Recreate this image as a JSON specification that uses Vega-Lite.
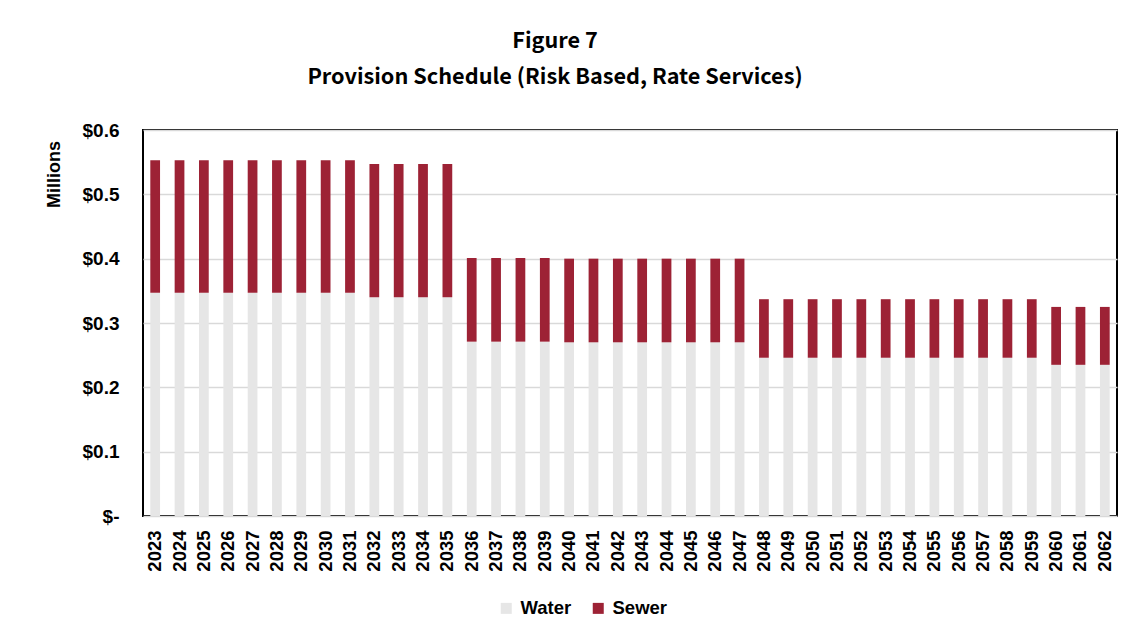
{
  "$schema": "https://vega.github.io/schema/vega-lite/v6.json",
  "width": 974,
  "height": 386,
  "autosize": {"type": "none"},
  "padding": {"left": 143, "top": 130, "right": 29, "bottom": 128},
  "background": "white",
  "title": {
    "text": ["Figure 7", "Provision Schedule (Risk Based, Rate Services)"],
    "font": "Noto Sans CJK JP",
    "fontWeight": "bold",
    "fontSize": 21.7,
    "lineHeight": 36,
    "color": "#000000",
    "anchor": "middle",
    "frame": "group",
    "dx": -75,
    "offset": 32
  },
  "data": {
    "values": [
      {"year": "2023", "type": "Water", "value": 0.347}, {"year": "2023", "type": "Sewer", "value": 0.206},
      {"year": "2024", "type": "Water", "value": 0.347}, {"year": "2024", "type": "Sewer", "value": 0.206},
      {"year": "2025", "type": "Water", "value": 0.347}, {"year": "2025", "type": "Sewer", "value": 0.206},
      {"year": "2026", "type": "Water", "value": 0.347}, {"year": "2026", "type": "Sewer", "value": 0.206},
      {"year": "2027", "type": "Water", "value": 0.347}, {"year": "2027", "type": "Sewer", "value": 0.206},
      {"year": "2028", "type": "Water", "value": 0.347}, {"year": "2028", "type": "Sewer", "value": 0.206},
      {"year": "2029", "type": "Water", "value": 0.347}, {"year": "2029", "type": "Sewer", "value": 0.206},
      {"year": "2030", "type": "Water", "value": 0.347}, {"year": "2030", "type": "Sewer", "value": 0.206},
      {"year": "2031", "type": "Water", "value": 0.347}, {"year": "2031", "type": "Sewer", "value": 0.206},
      {"year": "2032", "type": "Water", "value": 0.340}, {"year": "2032", "type": "Sewer", "value": 0.207},
      {"year": "2033", "type": "Water", "value": 0.340}, {"year": "2033", "type": "Sewer", "value": 0.207},
      {"year": "2034", "type": "Water", "value": 0.340}, {"year": "2034", "type": "Sewer", "value": 0.207},
      {"year": "2035", "type": "Water", "value": 0.340}, {"year": "2035", "type": "Sewer", "value": 0.207},
      {"year": "2036", "type": "Water", "value": 0.271}, {"year": "2036", "type": "Sewer", "value": 0.130},
      {"year": "2037", "type": "Water", "value": 0.271}, {"year": "2037", "type": "Sewer", "value": 0.130},
      {"year": "2038", "type": "Water", "value": 0.271}, {"year": "2038", "type": "Sewer", "value": 0.130},
      {"year": "2039", "type": "Water", "value": 0.271}, {"year": "2039", "type": "Sewer", "value": 0.130},
      {"year": "2040", "type": "Water", "value": 0.270}, {"year": "2040", "type": "Sewer", "value": 0.130},
      {"year": "2041", "type": "Water", "value": 0.270}, {"year": "2041", "type": "Sewer", "value": 0.130},
      {"year": "2042", "type": "Water", "value": 0.270}, {"year": "2042", "type": "Sewer", "value": 0.130},
      {"year": "2043", "type": "Water", "value": 0.270}, {"year": "2043", "type": "Sewer", "value": 0.130},
      {"year": "2044", "type": "Water", "value": 0.270}, {"year": "2044", "type": "Sewer", "value": 0.130},
      {"year": "2045", "type": "Water", "value": 0.270}, {"year": "2045", "type": "Sewer", "value": 0.130},
      {"year": "2046", "type": "Water", "value": 0.270}, {"year": "2046", "type": "Sewer", "value": 0.130},
      {"year": "2047", "type": "Water", "value": 0.270}, {"year": "2047", "type": "Sewer", "value": 0.130},
      {"year": "2048", "type": "Water", "value": 0.246}, {"year": "2048", "type": "Sewer", "value": 0.091},
      {"year": "2049", "type": "Water", "value": 0.246}, {"year": "2049", "type": "Sewer", "value": 0.091},
      {"year": "2050", "type": "Water", "value": 0.246}, {"year": "2050", "type": "Sewer", "value": 0.091},
      {"year": "2051", "type": "Water", "value": 0.246}, {"year": "2051", "type": "Sewer", "value": 0.091},
      {"year": "2052", "type": "Water", "value": 0.246}, {"year": "2052", "type": "Sewer", "value": 0.091},
      {"year": "2053", "type": "Water", "value": 0.246}, {"year": "2053", "type": "Sewer", "value": 0.091},
      {"year": "2054", "type": "Water", "value": 0.246}, {"year": "2054", "type": "Sewer", "value": 0.091},
      {"year": "2055", "type": "Water", "value": 0.246}, {"year": "2055", "type": "Sewer", "value": 0.091},
      {"year": "2056", "type": "Water", "value": 0.246}, {"year": "2056", "type": "Sewer", "value": 0.091},
      {"year": "2057", "type": "Water", "value": 0.246}, {"year": "2057", "type": "Sewer", "value": 0.091},
      {"year": "2058", "type": "Water", "value": 0.246}, {"year": "2058", "type": "Sewer", "value": 0.091},
      {"year": "2059", "type": "Water", "value": 0.246}, {"year": "2059", "type": "Sewer", "value": 0.091},
      {"year": "2060", "type": "Water", "value": 0.235}, {"year": "2060", "type": "Sewer", "value": 0.090},
      {"year": "2061", "type": "Water", "value": 0.235}, {"year": "2061", "type": "Sewer", "value": 0.090},
      {"year": "2062", "type": "Water", "value": 0.235}, {"year": "2062", "type": "Sewer", "value": 0.090}
    ]
  },
  "mark": {"type": "bar"},
  "encoding": {
    "x": {
      "field": "year",
      "type": "ordinal",
      "scale": {"paddingInner": 0.6, "paddingOuter": 0.3},
      "axis": {
        "title": null,
        "labelAngle": -90,
        "labelFont": "Liberation Sans",
        "labelFontWeight": "bold",
        "labelFontSize": 18.5,
        "labelColor": "#000000",
        "labelPadding": 14,
        "ticks": false,
        "tickSize": 0,
        "domain": false,
        "grid": false
      }
    },
    "y": {
      "field": "value",
      "type": "quantitative",
      "stack": "zero",
      "scale": {"domain": [0, 0.6], "nice": false},
      "axis": {
        "title": "Millions",
        "titleFont": "Liberation Sans",
        "titleFontWeight": "bold",
        "titleFontSize": 18,
        "titleColor": "#000000",
        "titleAngle": -90,
        "titleBaseline": "alphabetic",
        "titleAlign": "center",
        "titleX": -84,
        "titleY": 44,
        "values": [0, 0.1, 0.2, 0.3, 0.4, 0.5, 0.6],
        "labelExpr": "datum.value === 0 ? '$-\u00a0' : '$' + format(datum.value, '.1f')",
        "labelFont": "Liberation Sans",
        "labelFontWeight": "bold",
        "labelFontSize": 19,
        "labelColor": "#000000",
        "labelPadding": 24,
        "ticks": false,
        "tickSize": 0,
        "domain": false,
        "grid": true,
        "gridColor": "#D9D9D9",
        "gridWidth": 1.5
      }
    },
    "color": {
      "field": "type",
      "type": "nominal",
      "scale": {"domain": ["Water", "Sewer"], "range": ["#E6E6E6", "#9D2235"]},
      "legend": {
        "title": null,
        "orient": "none",
        "direction": "horizontal",
        "legendX": 354,
        "legendY": 469,
        "symbolType": "square",
        "symbolSize": 121,
        "symbolStrokeWidth": 0,
        "labelFont": "Liberation Sans",
        "labelFontWeight": "bold",
        "labelFontSize": 18.5,
        "labelColor": "#000000",
        "labelOffset": 5,
        "columnPadding": 17
      }
    },
    "order": {"field": "type", "sort": "descending"}
  },
  "config": {
    "view": {"stroke": "#000000", "strokeWidth": 2}
  }
}
